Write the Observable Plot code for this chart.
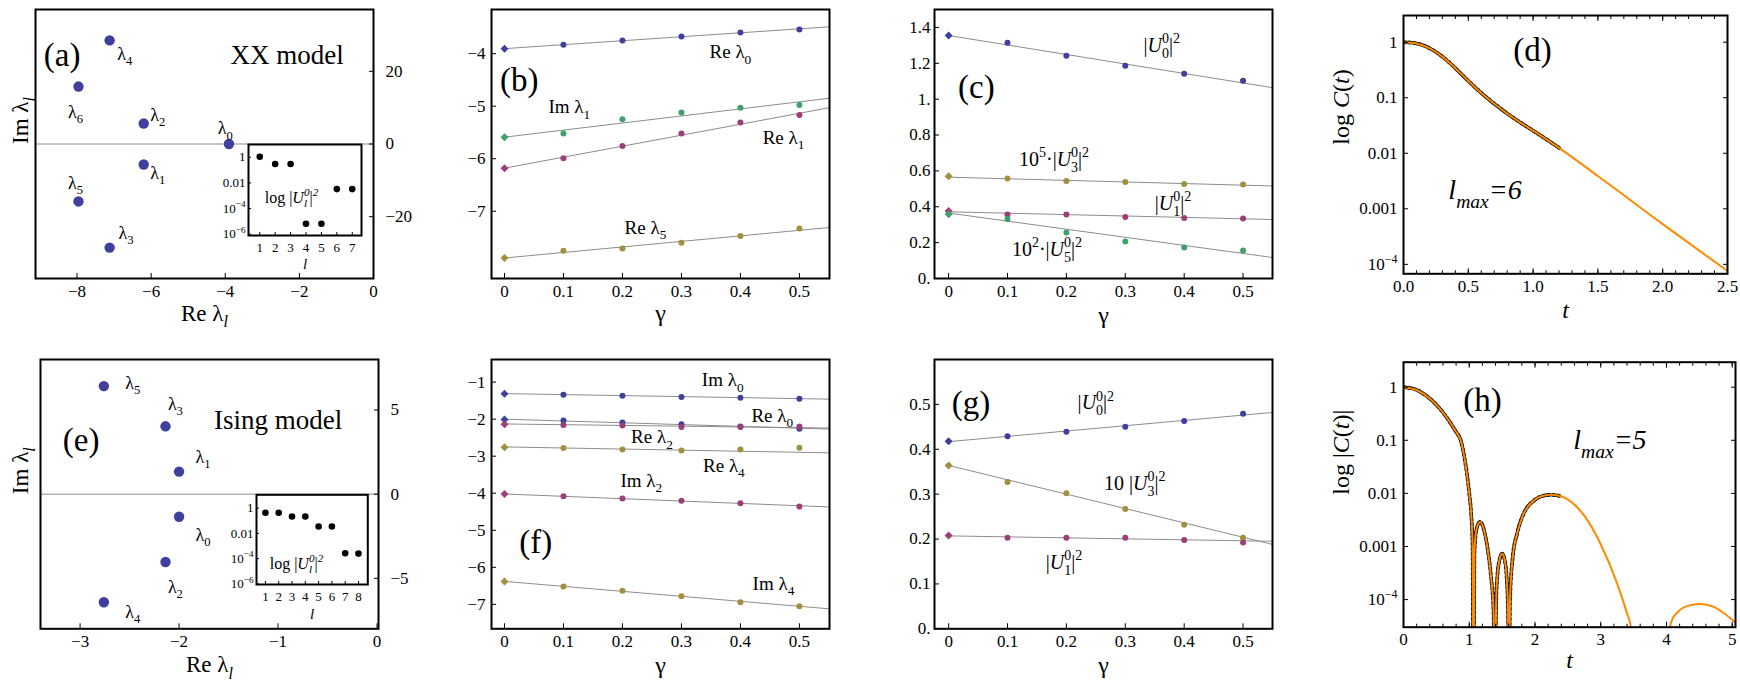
<!DOCTYPE html>
<html><head><meta charset="utf-8">
<script src="https://cdn.jsdelivr.net/npm/d3@7"></script>
<script src="https://cdn.jsdelivr.net/npm/@observablehq/plot@0.6"></script>
<style>
body{margin:0;background:#fff;}
#fig{position:relative;width:1740px;height:695px;overflow:hidden;background:#fff;}
#fig svg text{font-family:"Liberation Serif","Times New Roman",Times,serif;}
</style></head><body><div id="fig"></div><script>
// ---------------- data ----------------
// (a) XX model spectrum
const xxRe = [-3.9, -6.2, -6.2, -7.12, -7.12, -7.96, -7.96];
const xxIm = [0, -5.65, 5.65, -28.5, 28.5, -15.8, 15.8];
const xxNames = ["λ_0", "λ_1", "λ_2", "λ_3", "λ_4", "λ_5", "λ_6"];
// (a) inset weights
const xxL = [1, 2, 3, 4, 5, 6, 7];
const xxWeight = [1.1, 0.3, 0.3, 6.6e-6, 6.6e-6, 0.0033, 0.0033];
// (e) Ising model spectrum
const isRe = [-2.0, -2.0, -2.137, -2.137, -2.76, -2.76];
const isIm = [-1.34, 1.34, -4.03, 4.03, -6.42, 6.42];
const isNames = ["λ_0", "λ_1", "λ_2", "λ_3", "λ_4", "λ_5"];
const isL = [1, 2, 3, 4, 5, 6, 7, 8];
const isWeight = [0.43, 0.43, 0.22, 0.22, 0.035, 0.035, 2.7e-4, 2.5e-4];
// gamma panels
const gammas = [0, 0.1, 0.2, 0.3, 0.4, 0.5];
const fitGamma = [0, 0.55];
// (b)
const xxReL0 = [-3.905, -3.83, -3.75, -3.676, -3.6, -3.54];
const xxImL1 = [-5.59, -5.52, -5.25, -5.12, -5.03, -4.98];
const xxReL1 = [-6.18, -5.99, -5.76, -5.52, -5.31, -5.17];
const xxReL5 = [-7.89, -7.75, -7.71, -7.6, -7.47, -7.33];
const xxReL0Fit = [-3.905, -3.49];
const xxImL1Fit = [-5.59, -4.85];
const xxReL1Fit = [-6.18, -5.03];
const xxReL5Fit = [-7.89, -7.31];
// (c)
const xxU0 = [1.355, 1.315, 1.242, 1.187, 1.142, 1.103];
const xxU3 = [0.57, 0.557, 0.544, 0.538, 0.527, 0.524];
const xxU1 = [0.377, 0.357, 0.357, 0.343, 0.338, 0.334];
const xxU5 = [0.358, 0.332, 0.256, 0.206, 0.173, 0.156];
const xxU0Fit = [1.355, 1.064];
const xxU3Fit = [0.565, 0.516];
const xxU1Fit = [0.372, 0.329];
const xxU5Fit = [0.365, 0.117];
// (f)
const isImL0 = [-1.313, -1.34, -1.37, -1.405, -1.42, -1.45];
const isReL0 = [-2.01, -2.035, -2.09, -2.14, -2.2, -2.26];
const isReL2 = [-2.14, -2.16, -2.17, -2.21, -2.21, -2.2];
const isReL4 = [-2.756, -2.78, -2.82, -2.85, -2.82, -2.77];
const isImL2 = [-4.02, -4.08, -4.14, -4.2, -4.27, -4.36];
const isImL4 = [-6.38, -6.52, -6.63, -6.78, -6.94, -7.05];
const isImL0Fit = [-1.31, -1.46];
const isReL0Fit = [-2.0, -2.27];
const isReL2Fit = [-2.13, -2.24];
const isReL4Fit = [-2.75, -2.91];
const isImL2Fit = [-4.02, -4.37];
const isImL4Fit = [-6.38, -7.12];
// (g)
const isU0 = [0.418, 0.429, 0.439, 0.45, 0.463, 0.479];
const isU3 = [0.364, 0.327, 0.302, 0.267, 0.232, 0.203];
const isU1 = [0.208, 0.203, 0.203, 0.203, 0.198, 0.192];
const isU0Fit = [0.417, 0.482];
const isU3Fit = [0.364, 0.188];
const isU1Fit = [0.207, 0.195];
// (d) C(t), XX model
const dT = [0, 0.1, 0.2, 0.3, 0.4, 0.5, 0.6, 0.7, 0.8, 0.9, 1.0, 1.1, 1.2, 1.5, 2.0, 2.5];
const dC = [1, 0.95, 0.78, 0.55, 0.34, 0.2, 0.122, 0.078, 0.052, 0.036, 0.0255, 0.018, 0.0125, 0.0039, 5.3e-4, 7.6e-5];
const dDashedEnd = 1.2;
// (h) |C(t)|, Ising model
const hT = [0, 0.2, 0.4, 0.6, 0.7, 0.8, 0.87, 0.93, 1.0, 1.03, 1.05, 1.065, 1.08, 1.11, 1.165, 1.23, 1.28, 1.33, 1.37, 1.39, 1.41, 1.43, 1.46, 1.5, 1.54, 1.57, 1.59, 1.605, 1.62, 1.66, 1.73, 1.83, 1.99, 2.1, 2.24, 2.37, 2.49, 2.75, 3.0, 3.25, 3.4, 3.46, 3.52, 3.98, 4.03, 4.08, 4.16, 4.32, 4.52, 4.72, 4.87, 5.05];
const hC = [1, 0.885, 0.61, 0.335, 0.225, 0.143, 0.1, 0.045, 0.01, 0.004, 0.0012, 1e-6, 8e-4, 2.1e-3, 2.9e-3, 1.9e-3, 9e-4, 2.8e-4, 6e-5, 1e-6, 1e-4, 3e-4, 5.5e-4, 7.3e-4, 5.5e-4, 2.5e-4, 6e-5, 1e-6, 1e-4, 6e-4, 1.8e-3, 4.2e-3, 7.4e-3, 8.8e-3, 9.4e-3, 9e-3, 7.8e-3, 3.8e-3, 1.1e-3, 2e-4, 5.5e-5, 3e-5, 1e-6, 1e-6, 2e-5, 4e-5, 5.6e-5, 7.6e-5, 8.3e-5, 7.3e-5, 5.6e-5, 3.7e-5];
const hDashedEnd = 2.37;
// tick values
const ticksAX = [-8, -6, -4, -2, 0], ticksAY = [-20, 0, 20];
const ticksEX = [-3, -2, -1, 0], ticksEY = [-5, 0, 5];
const ticksB = [-7, -6, -5, -4], ticksF = [-7, -6, -5, -4, -3, -2, -1];
const ticksC = [0, 0.2, 0.4, 0.6, 0.8, 1, 1.2, 1.4], ticksG = [0, 0.1, 0.2, 0.3, 0.4, 0.5];
const ticksLog = [1, 0.1, 0.01, 0.001, 1e-4], ticksInset = [1, 0.01, 1e-4, 1e-6];
const ticksDX = [0, 0.5, 1, 1.5, 2, 2.5], ticksHX = [0, 1, 2, 3, 4, 5];
const minorDX = d3.range(0, 2.51, 0.1), minorHX = d3.range(0, 5.01, 0.2);

// ---------------- style ----------------
const FONT = '"Liberation Serif","Times New Roman",Times,serif';
const BLUE = "#3f3f9e", MAG = "#9c3f78", GOLD = "#a0903f", GREEN = "#3fa06a", GRAY = "#8c8c8c", ORANGE = "#ff8a00";
const fig = document.getElementById("fig");

const fmtMinus = d => (d < 0 ? "\u2212" + Math.abs(d) : String(d));
const fmtDot = d => (d === 0 ? "0." : d === 1 ? "1." : d.toFixed(1));
const fmtLog = d => (d === 1 ? "1" : d >= 0.001 ? String(d) : "10^{\u2212" + Math.round(-Math.log10(d)) + "}");
const blank = () => "";

function parseRich(s) {
  const segs = []; let italic = false, i = 0, buf = "";
  const flush = () => { if (buf) { segs.push({t: buf, k: "n", it: italic}); buf = ""; } };
  while (i < s.length) {
    const c = s[i];
    if (c === "%") { flush(); italic = !italic; i++; }
    else if (c === "_" || c === "^") {
      flush();
      let arg;
      if (s[i + 1] === "{") { const j = s.indexOf("}", i); arg = s.slice(i + 2, j); i = j + 1; }
      else { arg = s[i + 1]; i += 2; }
      let it = italic;
      if (arg.length > 1 && arg.startsWith("%") && arg.endsWith("%")) { arg = arg.slice(1, -1); it = true; }
      segs.push({t: arg, k: c === "_" ? "sub" : "sup", it});
    } else { buf += c; i++; }
  }
  flush();
  return segs;
}
function richify(root) {
  root.querySelectorAll("text").forEach(el => {
    const s = el.textContent;
    if (!/[_^%]/.test(s)) return;
    const fs = parseFloat(getComputedStyle(el).fontSize) || 16;
    const segs = parseRich(s);
    el.textContent = "";
    let cur = 0, prev = null;
    for (const sg of segs) {
      const ts = document.createElementNS("http://www.w3.org/2000/svg", "tspan");
      ts.textContent = sg.t;
      const target = sg.k === "sub" ? 0.3 * fs : sg.k === "sup" ? -0.42 * fs : 0;
      if (target - cur !== 0) ts.setAttribute("dy", target - cur);
      cur = target;
      if (sg.k !== "n") ts.setAttribute("font-size", 0.7 * fs);
      if (sg.it) ts.setAttribute("font-style", "italic");
      el.appendChild(ts);
      if (sg.k === "sup" && prev && prev.k === "sub") ts.setAttribute("dx", -prev.el.getComputedTextLength());
      prev = {k: sg.k, el: ts};
    }
  });
}
function panel(o) {
  try {
    const svg = Plot.plot({
      width: o.width, height: o.height,
      marginLeft: o.mL, marginRight: o.mR, marginTop: o.mT, marginBottom: o.mB,
      x: o.x, y: o.y, color: {type: "identity"},
      style: `background:transparent;overflow:visible;max-width:none;font-family:${FONT};font-size:${o.fs || 17}px;color:black;`,
      marks: o.marks
    });
    svg.style.position = "absolute";
    svg.style.left = o.left + "px";
    svg.style.top = o.top + "px";
    fig.appendChild(svg);
    richify(svg);
    return svg;
  } catch (e) { console.error(e); }
}
const axX = (ticks, fmt, anchor, pad, size = -5) => Plot.axisX({anchor, ticks, tickFormat: fmt, tickSize: size, tickPadding: pad, label: null, fontFamily: FONT, fontVariant: "normal"});
const axY = (ticks, fmt, anchor, pad, size = -5) => Plot.axisY({anchor, ticks, tickFormat: fmt, tickSize: size, tickPadding: pad, label: null, fontFamily: FONT, fontVariant: "normal"});
const frame = () => Plot.frame({stroke: "black", strokeWidth: 2});
const label = (txt, opts) => Plot.text([txt], {text: d => d, fill: "black", fontFamily: FONT, ...opts});
const notes = (txts, xs, ys, fontSize) => Plot.text(txts, {x: xs, y: ys, text: d => d, fontSize, fill: "black", fontFamily: FONT});

function gammaRows(series) {
  return series.flatMap(s => gammas.map((g, i) => ({g, v: s.values[i], color: s.color})));
}
function fitRows(series) {
  return series.flatMap((s, k) => fitGamma.map((g, i) => ({g, v: s.fit[i], k})));
}
function gammaMarks(series) {
  const pts = gammaRows(series), fits = fitRows(series);
  return [
    Plot.line(fits, {x: "g", y: "v", z: "k", stroke: GRAY, strokeWidth: 1, clip: true}),
    Plot.dot(pts.filter(d => d.g > 0), {x: "g", y: "v", fill: "color", r: 3}),
    Plot.dot(pts.filter(d => d.g === 0), {x: "g", y: "v", fill: "color", r: 3.6, symbol: "diamond2"})
  ];
}
const gammaFmt = d => (d === 0 ? "0" : String(d));

// ---------------- (a) ----------------
panel({left: 0, top: 0, width: 440, height: 340, mL: 35, mR: 67, mT: 9, mB: 62,
  x: {domain: [-9.12, 0]}, y: {domain: [-37, 37]},
  marks: [
    Plot.ruleY([0], {stroke: GRAY, strokeWidth: 1}),
    Plot.dot(d3.range(xxRe.length), {x: i => xxRe[i], y: i => xxIm[i], r: 5.2, fill: BLUE}),
    notes(xxNames, [-4.0, -5.82, -5.82, -6.68, -6.71, -8.04, -8.04], [4.3, -8.0, 7.95, -24.5, 24.8, -10.8, 8.85], 18),
    notes(["(a)"], [-8.4], [24.4], 33),
    notes(["XX model"], [-2.33], [24.4], 27),
    frame(),
    axX(ticksAX, fmtMinus, "bottom", 11),
    axY(ticksAY, fmtMinus, "right", 17),
    label("Re λ_{%l%}", {frameAnchor: "bottom", dy: 42, fontSize: 23}),
    label("Im λ_{%l%}", {frameAnchor: "left", dx: -15, rotate: -90, fontSize: 23})
  ]});
// (a) inset
panel({left: 200, top: 130, width: 175, height: 150, mL: 48, mR: 14, mT: 14, mB: 45, fs: 13,
  x: {domain: [0.27, 7.6]}, y: {type: "log", domain: [10 ** -6.1, 10]},
  marks: [
    Plot.frame({fill: "white", stroke: "black", strokeWidth: 2}),
    Plot.dot(d3.range(xxL.length), {x: i => xxL[i], y: i => xxWeight[i], r: 3.3, fill: "black"}),
    notes(["log |%U%_{%l%}^{%0%}|^{%2%}"], [3.06], [7.4e-4], 16),
    axX(xxL, String, "bottom", 10, -3),
    axY(ticksInset, fmtLog, "left", 6, -3),
    label("%l%", {frameAnchor: "bottom", dy: 33, fontSize: 15})
  ]});

// ---------------- (b) ----------------
panel({left: 440, top: 0, width: 440, height: 340, mL: 51, mR: 51, mT: 9, mB: 62,
  x: {domain: [-0.022, 0.551]}, y: {domain: [-8.28, -3.16]},
  marks: [
    ...gammaMarks([
      {values: xxReL0, fit: xxReL0Fit, color: BLUE},
      {values: xxImL1, fit: xxImL1Fit, color: GREEN},
      {values: xxReL1, fit: xxReL1Fit, color: MAG},
      {values: xxReL5, fit: xxReL5Fit, color: GOLD}
    ]),
    notes(["Re λ_0", "Im λ_1", "Re λ_1", "Re λ_5"], [0.383, 0.11, 0.473, 0.239], [-3.975, -5.02, -5.6, -7.31], 19),
    notes(["(b)"], [0.025], [-4.51], 33),
    frame(),
    axX(gammas, gammaFmt, "bottom", 11),
    axY(ticksB, fmtMinus, "left", 11),
    label("γ", {frameAnchor: "bottom", dy: 42, fontSize: 24})
  ]});

// ---------------- (c) ----------------
panel({left: 880, top: 0, width: 430, height: 340, mL: 54, mR: 38, mT: 9, mB: 62,
  x: {domain: [-0.024, 0.55]}, y: {domain: [0, 1.5]},
  marks: [
    ...gammaMarks([
      {values: xxU0, fit: xxU0Fit, color: BLUE},
      {values: xxU3, fit: xxU3Fit, color: GOLD},
      {values: xxU1, fit: xxU1Fit, color: MAG},
      {values: xxU5, fit: xxU5Fit, color: GREEN}
    ]),
    notes(["|%U%_0^0|^2", "10^5·|%U%_3^0|^2", "|%U%_1^0|^2", "10^2·|%U%_5^0|^2"], [0.362, 0.179, 0.381, 0.167], [1.3, 0.665, 0.42, 0.163], 20),
    notes(["(c)"], [0.047], [1.066], 33),
    frame(),
    axX(gammas, gammaFmt, "bottom", 11),
    axY(ticksC, fmtDot, "left", 9),
    label("γ", {frameAnchor: "bottom", dy: 44, fontSize: 24})
  ]});

// ---------------- (d) ----------------
const dIdx = d3.range(dT.length);
panel({left: 1310, top: 0, width: 430, height: 340, mL: 93, mR: 13, mT: 15, mB: 66.7,
  x: {domain: [0, 2.5]}, y: {type: "log", domain: [10 ** -4.17, 10 ** 0.48]},
  marks: [
    Plot.line(dIdx.filter(i => dT[i] <= dDashedEnd), {x: i => dT[i], y: i => dC[i], stroke: "#111", strokeWidth: 3.8, strokeDasharray: "2.5,2.5", curve: "monotone-x", clip: true}),
    Plot.line(dIdx, {x: i => dT[i], y: i => dC[i], stroke: ORANGE, strokeWidth: 2, curve: "monotone-x", clip: true}),
    notes(["(d)"], [0.995], [0.71], 33),
    notes(["%l%_{%max%}%=6%"], [0.629], [0.00215], 28),
    frame(),
    axX(ticksDX, d => d.toFixed(1), "bottom", 11),
    axX(minorDX, blank, "bottom", 11, -3),
    axX(ticksDX, blank, "top", 5),
    axX(minorDX, blank, "top", 5, -3),
    axY(ticksLog, fmtLog, "left", 11),
    axY(ticksLog, blank, "right", 5),
    label("log %C%(%t%)", {frameAnchor: "left", dx: -62, rotate: -90, fontSize: 24}),
    label("%t%", {frameAnchor: "bottom", dy: 44, fontSize: 24})
  ]});

// ---------------- (e) ----------------
panel({left: 0, top: 340, width: 440, height: 355, mL: 40, mR: 62, mT: 19, mB: 66.7,
  x: {domain: [-3.4, 0.015]}, y: {domain: [-8, 8]},
  marks: [
    Plot.ruleY([0], {stroke: GRAY, strokeWidth: 1}),
    Plot.dot(d3.range(isRe.length), {x: i => isRe[i], y: i => isIm[i], r: 5.2, fill: BLUE}),
    notes(isNames, [-1.758, -1.758, -2.037, -2.037, -2.467, -2.467], [-2.44, 2.22, -5.52, 5.36, -7.0, 6.59], 18),
    notes(["(e)"], [-2.99], [3.21], 33),
    notes(["Ising model"], [-1.0], [4.4], 27),
    frame(),
    axX(ticksEX, fmtMinus, "bottom", 11),
    axY(ticksEY, fmtMinus, "right", 17),
    label("Re λ_{%l%}", {frameAnchor: "bottom", dy: 43, fontSize: 23}),
    label("Im λ_{%l%}", {frameAnchor: "left", dx: -20, rotate: -90, fontSize: 23})
  ]});
// (e) inset
panel({left: 205, top: 480, width: 177, height: 150, mL: 51, mR: 14.7, mT: 14.3, mB: 46, fs: 13,
  x: {domain: [0.33, 8.7]}, y: {type: "log", domain: [10 ** -6.05, 10 ** 1.06]},
  marks: [
    Plot.frame({fill: "white", stroke: "black", strokeWidth: 2}),
    Plot.dot(d3.range(isL.length), {x: i => isL[i], y: i => isWeight[i], r: 3.3, fill: "black"}),
    notes(["log |%U%_{%l%}^{%0%}|^{%2%}"], [3.34], [4.2e-5], 16),
    axX(isL, String, "bottom", 10, -3),
    axY(ticksInset, fmtLog, "left", 6, -3),
    label("%l%", {frameAnchor: "bottom", dy: 34, fontSize: 15})
  ]});

// ---------------- (f) ----------------
panel({left: 440, top: 340, width: 440, height: 355, mL: 51, mR: 51, mT: 19, mB: 66.7,
  x: {domain: [-0.022, 0.551]}, y: {domain: [-7.66, -0.39]},
  marks: [
    ...gammaMarks([
      {values: isImL0, fit: isImL0Fit, color: BLUE},
      {values: isReL0, fit: isReL0Fit, color: BLUE},
      {values: isReL2, fit: isReL2Fit, color: MAG},
      {values: isReL4, fit: isReL4Fit, color: GOLD},
      {values: isImL2, fit: isImL2Fit, color: MAG},
      {values: isImL4, fit: isImL4Fit, color: GOLD}
    ]),
    notes(["Im λ_0", "Re λ_0", "Re λ_2", "Re λ_4", "Im λ_2", "Im λ_4"], [0.37, 0.454, 0.25, 0.372, 0.232, 0.456], [-0.954, -1.9, -2.49, -3.25, -3.66, -6.44], 19),
    notes(["(f)"], [0.053], [-5.33], 33),
    frame(),
    axX(gammas, gammaFmt, "bottom", 11),
    axY(ticksF, fmtMinus, "left", 11),
    label("γ", {frameAnchor: "bottom", dy: 44, fontSize: 24})
  ]});

// ---------------- (g) ----------------
panel({left: 880, top: 340, width: 430, height: 355, mL: 54, mR: 38, mT: 19, mB: 66.7,
  x: {domain: [-0.024, 0.55]}, y: {domain: [0, 0.6]},
  marks: [
    ...gammaMarks([
      {values: isU0, fit: isU0Fit, color: BLUE},
      {values: isU3, fit: isU3Fit, color: GOLD},
      {values: isU1, fit: isU1Fit, color: MAG}
    ]),
    notes(["|%U%_0^0|^2", "10 |%U%_3^0|^2", "|%U%_1^0|^2"], [0.25, 0.316, 0.196], [0.504, 0.324, 0.148], 20),
    notes(["(g)"], [0.038], [0.502], 33),
    frame(),
    axX(gammas, gammaFmt, "bottom", 11),
    axY(ticksG, fmtDot, "left", 9),
    label("γ", {frameAnchor: "bottom", dy: 44, fontSize: 24})
  ]});

// ---------------- (h) ----------------
const hIdx = d3.range(hT.length);
panel({left: 1310, top: 340, width: 430, height: 355, mL: 93, mR: 5, mT: 21.7, mB: 68.3,
  x: {domain: [0, 5.05]}, y: {type: "log", domain: [10 ** -4.52, 10 ** 0.47]},
  marks: [
    Plot.line(hIdx.filter(i => hT[i] <= hDashedEnd), {x: i => hT[i], y: i => hC[i], stroke: "#111", strokeWidth: 3.8, strokeDasharray: "2.5,2.5", curve: "monotone-x", clip: true}),
    Plot.line(hIdx, {x: i => hT[i], y: i => hC[i], stroke: ORANGE, strokeWidth: 2, curve: "monotone-x", clip: true}),
    notes(["(h)"], [1.2], [0.56], 33),
    notes(["%l%_{%max%}%=5%"], [3.14], [0.1], 28),
    frame(),
    axX(ticksHX, String, "bottom", 11),
    axX(minorHX, blank, "bottom", 11, -3),
    axX(ticksHX, blank, "top", 5),
    axX(minorHX, blank, "top", 5, -3),
    axY(ticksLog, fmtLog, "left", 11),
    axY(ticksLog, blank, "right", 5),
    label("log |%C%(%t%)|", {frameAnchor: "left", dx: -62, rotate: -90, fontSize: 24}),
    label("%t%", {frameAnchor: "bottom", dy: 41, fontSize: 24})
  ]});
</script></body></html>
